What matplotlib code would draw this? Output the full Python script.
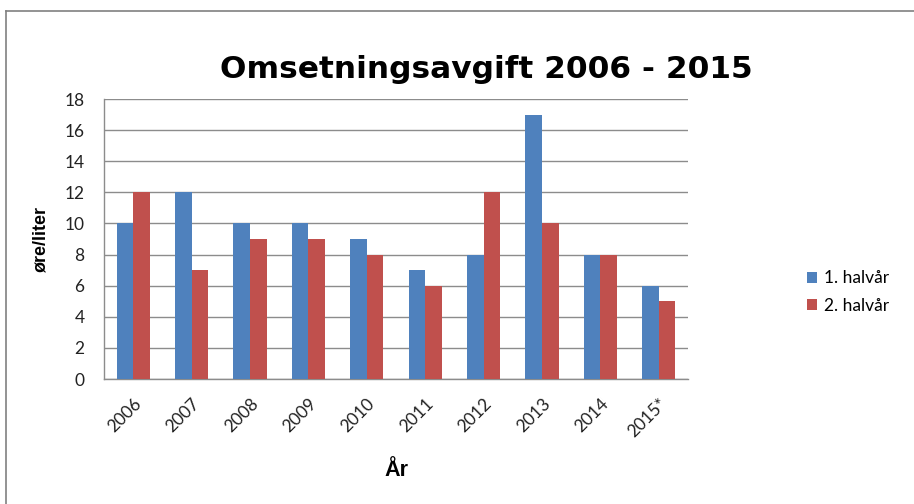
import matplotlib
matplotlib.use("Agg")
import matplotlib.pyplot as plt
import numpy as np
from matplotlib.lines import Line2D

# data
years = ['2006', '2007', '2008', '2009', '2010', '2011', '2012', '2013', '2014', '2015*']
first_half = [10, 12, 10, 10, 9, 7, 8, 17, 8, 6]
second_half = [12, 7, 9, 9, 8, 6, 12, 10, 8, 5]
series_names = ['1. halvår', '2. halvår']

BLUE = '#4F81BD'
RED = '#C0504D'
GRID = '#8C8C8C'

tick_font = ['Lato', 'DejaVu Sans']
bold_font = ['Liberation Sans', 'DejaVu Sans']

fig = plt.figure(figsize=(9.14, 5.04), dpi=100)
ax = fig.add_axes([104 / 914, 1 - 379 / 504, 584 / 914, 280 / 504])

x = np.arange(len(years))
w = 1 / 3.5
ax.bar(x - w / 2, first_half, width=w, color=BLUE, label=series_names[0], zorder=3)
ax.bar(x + w / 2, second_half, width=w, color=RED, label=series_names[1], zorder=3)

ax.set_xlim(-0.5, len(years) - 0.5)
ax.set_ylim(0, 18)
ax.set_yticks(range(0, 19, 2))
ax.yaxis.grid(True, color=GRID, linewidth=1.0, zorder=0)
ax.set_axisbelow(True)

for side in ['top', 'right']:
    ax.spines[side].set_visible(False)
for side in ['left', 'bottom']:
    ax.spines[side].set_color(GRID)
    ax.spines[side].set_linewidth(1.0)

ax.tick_params(axis='both', length=0, labelsize=12.5, colors='#222222')
ax.tick_params(axis='y', pad=14)
for lab in ax.get_yticklabels():
    lab.set_fontfamily(tick_font)

ax.set_xticks(x)
ax.set_xticklabels(years, rotation=45, ha='right', va='top',
                   rotation_mode='anchor', family=tick_font, fontsize=12.5)
ax.tick_params(axis='x', pad=12)

ax.set_ylabel('øre/liter', family=bold_font, fontweight='bold', fontsize=13, labelpad=11)
ax.set_xlabel('År', family=bold_font, fontweight='bold', fontsize=15.5, labelpad=14)

fig.text(486 / 914, 1 - 70 / 504, 'Omsetningsavgift 2006 - 2015',
         ha='center', va='center', family=['DejaVu Sans'], fontweight='bold', fontsize=22.5)

leg = ax.legend(loc='center left', bbox_to_anchor=(791 / 914, 1 - 292 / 504),
                bbox_transform=fig.transFigure, frameon=False,
                prop={'family': tick_font, 'size': 12.5},
                handlelength=0.6, handleheight=0.6, handletextpad=0.4,
                labelspacing=0.65)

# outer chart frame (top and left edges visible)
fig.add_artist(Line2D([6 / 914, 1.0], [1 - 11 / 504, 1 - 11 / 504],
                      transform=fig.transFigure, color='#808080', linewidth=1.2))
fig.add_artist(Line2D([6 / 914, 6 / 914], [0.0, 1 - 11 / 504],
                      transform=fig.transFigure, color='#808080', linewidth=1.2))

fig.savefig('out.png', dpi=100)
